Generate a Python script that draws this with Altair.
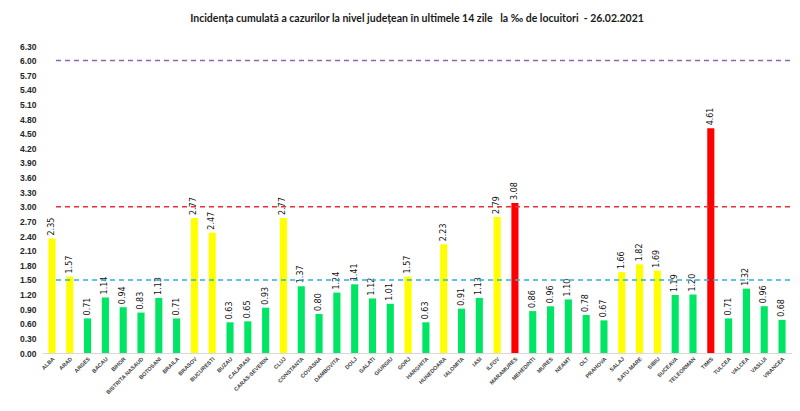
import altair as alt
import pandas as pd

counties = ["ALBA", "ARAD", "ARGES", "BACAU", "BIHOR", "BISTRITA NASAUD", "BOTOSANI",
            "BRAILA", "BRASOV", "BUCURESTI", "BUZAU", "CALARASI", "CARAS-SEVERIN", "CLUJ",
            "CONSTANTA", "COVASNA", "DAMBOVITA", "DOLJ", "GALATI", "GIURGIU", "GORJ",
            "HARGHITA", "HUNEDOARA", "IALOMITA", "IASI", "ILFOV", "MARAMURES", "MEHEDINTI",
            "MURES", "NEAMT", "OLT", "PRAHOVA", "SALAJ", "SATU MARE", "SIBIU", "SUCEAVA",
            "TELEORMAN", "TIMIS", "TULCEA", "VALCEA", "VASLUI", "VRANCEA"]
values = [2.35, 1.57, 0.71, 1.14, 0.94, 0.83, 1.13,
          0.71, 2.77, 2.47, 0.63, 0.65, 0.93, 2.77,
          1.37, 0.80, 1.24, 1.41, 1.12, 1.01, 1.57,
          0.63, 2.23, 0.91, 1.13, 2.79, 3.08, 0.86,
          0.96, 1.10, 0.78, 0.67, 1.66, 1.82, 1.69, 1.19,
          1.20, 4.61, 0.71, 1.32, 0.96, 0.68]
y_ticks = [0.0, 0.3, 0.6, 0.9, 1.2, 1.5, 1.8, 2.1, 2.4, 2.7, 3.0, 3.3, 3.6, 3.9,
           4.2, 4.5, 4.8, 5.1, 5.4, 5.7, 6.0, 6.3]
thresholds = [1.5, 3.0, 6.0]
threshold_colors = ["#2FB3D3", "#E8303A", "#8A66B8"]
level_names = ["sub 1.5", "1.5 - 3", "peste 3"]
level_colors = ["#00E664", "#FFFF00", "#FF0000"]

title_text = ("Incidența cumulată a cazurilor la nivel județean în ultimele 14 zile"
              "\u00a0\u00a0 la ‰ de locuitori\u00a0 - 26.02.2021")


def level(v):
    if v < 1.5:
        return level_names[0]
    if v <= 3.0:
        return level_names[1]
    return level_names[2]


df = pd.DataFrame({"judet": counties, "val": values})
df["nivel"] = [level(v) for v in values]
df["label"] = [f"{v:.2f}" for v in values]

lines_df = pd.DataFrame({"y": thresholds, "c": threshold_colors})

W = 750
H = 307

x_axis = alt.Axis(title=None, labelAngle=-45, labelFontSize=5.5,
                  labelFont="Liberation Sans", labelFontWeight="bold",
                  labelColor="#404040", ticks=False, labelPadding=3,
                  domainColor="#D9D9D9", domainWidth=1)
y_axis = alt.Axis(title=None, values=y_ticks, format=".2f", grid=False,
                  ticks=False, domain=False, labelFontSize=8.5,
                  labelFont="Liberation Sans", labelFontWeight="bold",
                  labelColor="#262626", labelPadding=6,
                  labelOverlap=False, labelFlush=False, labelBound=False)
x_scale = alt.Scale(paddingInner=0.6, paddingOuter=0.36)
y_scale = alt.Scale(domain=[0, 6.3], nice=False)

bars = alt.Chart(df).mark_bar().encode(
    x=alt.X("judet:N", sort=counties, scale=x_scale, axis=x_axis),
    y=alt.Y("val:Q", scale=y_scale, axis=y_axis),
    color=alt.Color("nivel:N", scale=alt.Scale(domain=level_names, range=level_colors),
                    legend=None),
)

labels = alt.Chart(df).mark_text(angle=270, align="left", baseline="middle", dx=3,
                                 fontSize=8, font="DejaVu Sans", color="#111111").encode(
    x=alt.X("judet:N", sort=counties, scale=x_scale, axis=x_axis),
    y=alt.Y("val:Q", scale=y_scale, axis=y_axis),
    text="label:N",
)

rules = alt.Chart(lines_df).mark_rule(strokeDash=[5, 4], strokeWidth=1.5).encode(
    y=alt.Y("y:Q", scale=y_scale, axis=y_axis),
    x=alt.value(14),
    x2=alt.value(W),
    color=alt.Color("c:N", scale=None),
)

chart = alt.layer(bars, labels, rules).properties(
    width=W, height=H,
    title=alt.TitleParams(title_text, font="Lato", fontSize=10.5,
                          fontWeight="bold", color="#1a1a1a", anchor="middle",
                          offset=18),
    autosize=alt.AutoSizeParams(type="none"),
    padding={"left": 34, "top": 38, "right": 0, "bottom": 50},
).configure_view(stroke=None).configure_axisY(labelOverlap=False, labelBound=False)

chart.save("out.html", embed_options={"renderer": "svg", "actions": False})
